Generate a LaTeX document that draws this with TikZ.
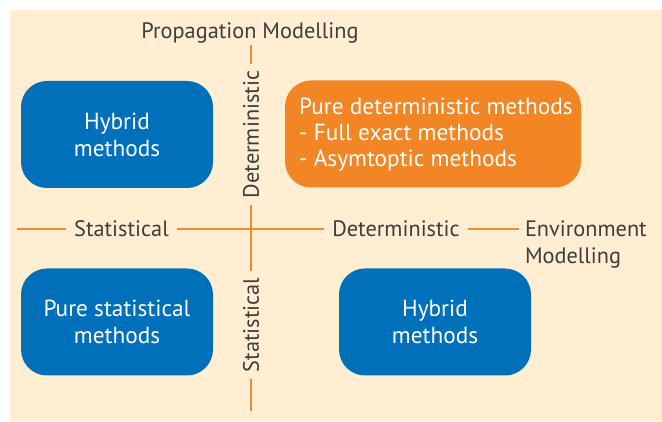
\documentclass[tikz,border=0pt]{standalone}
\usepackage{fontspec}
\setmainfont{PT Sans}
\definecolor{panel}{RGB}{255,238,210}
\definecolor{boxblue}{RGB}{0,112,186}
\definecolor{boxorange}{RGB}{242,133,36}
\definecolor{axisorange}{RGB}{243,138,46}
\definecolor{labelgray}{RGB}{62,62,62}
\begin{document}
\begin{tikzpicture}[x=1pt,y=-1pt,
  quadbox/.style={rounded corners=26pt, minimum width=192pt, minimum height=107pt,
    inner sep=0pt, text=white, align=center, font=\fontsize{23.3}{27}\selectfont},
  bluebox/.style={quadbox, fill=boxblue},
  orangebox/.style={quadbox, fill=boxorange, minimum width=296pt},
  axis/.style={draw=axisorange, line width=2.8pt},
  axislabel/.style={text=labelgray, font=\fontsize{22.3}{27}\selectfont, inner sep=0pt, outer sep=0pt},
  hgap/.style={axislabel, inner xsep=8pt},
  vgap/.style={axislabel, rotate=90, inner xsep=7pt}]
  % page and background panel
  \useasboundingbox (0,0) rectangle (662,422);
  \fill[white] (0,0) rectangle (662,422);
  \fill[panel] (10,10) rectangle (662,421);

  % axis titles
  \node[axislabel] (prop) at (250,33) {Propagation Modelling};
  \node[axislabel, anchor=north west, align=left]
    (env) at (525,221) {Environment\\Modelling};

  % labels sitting in the axis gaps
  \node[vgap] (vdet) at (251,134.5) {Deterministic};
  \node[vgap] (vstat) at (251,325) {Statistical};
  \node[hgap] (hstat) at (121.5,229) {Statistical};
  \node[hgap] (hdet) at (396,229) {Deterministic};

  % axis ends
  \coordinate (vtop) at (251,45);
  \coordinate (vbot) at (251,411);
  \coordinate (hleft) at (17,229);
  \coordinate (hright) at (519,229);

  % vertical axis
  \draw[axis] (vtop) -- (vdet);
  \draw[axis] (vdet) -- (vstat);
  \draw[axis] (vstat) -- (vbot);
  % horizontal axis
  \draw[axis] (hleft) -- (hstat);
  \draw[axis] (hstat) -- (hdet);
  \draw[axis] (hdet) -- (hright);

  % quadrants
  \node[bluebox] (hybTL) at (117,134.5) {Hybrid\\methods};
  \node[orangebox] (pure) at (433,134) {};
  \node[anchor=west, align=left, text=white, inner sep=0pt,
    font=\fontsize{23.3}{26}\selectfont] (puretext) at (299,134.5)
    {Pure deterministic methods\\- Full exact methods\\- Asymtoptic methods};
  \node[bluebox] (stat) at (117,322) {Pure statistical\\methods};
  \node[bluebox] (hybBR) at (435,322) {Hybrid\\methods};
\end{tikzpicture}
\end{document}
